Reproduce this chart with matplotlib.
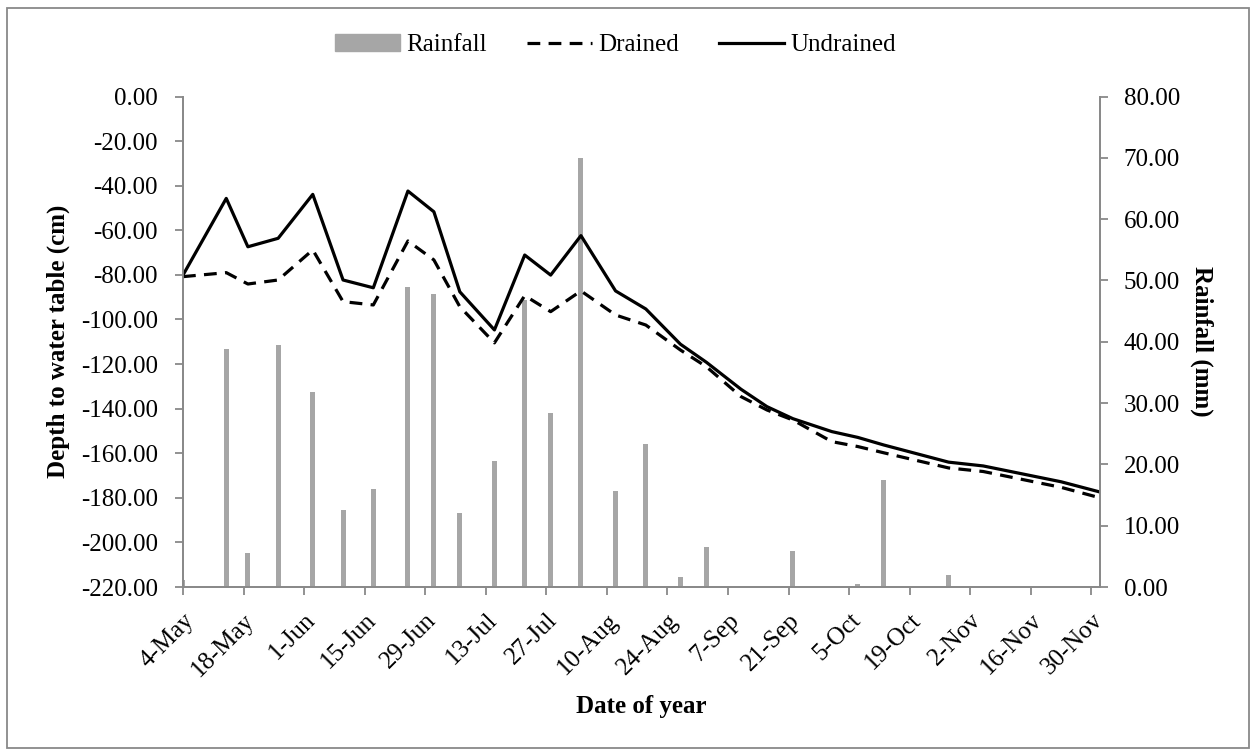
import numpy as np
import pandas as pd

import matplotlib
matplotlib.use("Agg")
import matplotlib.pyplot as plt
from matplotlib.patches import Patch, Rectangle
from matplotlib.lines import Line2D

# -----------------------------
# Data
# -----------------------------
dates = [
    "2013-05-04", "2013-05-14", "2013-05-19", "2013-05-26", "2013-06-03",
    "2013-06-10", "2013-06-17", "2013-06-25", "2013-07-01", "2013-07-07",
    "2013-07-15", "2013-07-22", "2013-07-28", "2013-08-04", "2013-08-12",
    "2013-08-19", "2013-08-27", "2013-09-02", "2013-09-10", "2013-09-16",
    "2013-09-22", "2013-10-01", "2013-10-07", "2013-10-13", "2013-10-28",
    "2013-11-05", "2013-11-23", "2013-12-02",
]
rainfall = [
    1.1, 38.8, 5.5, 39.4, 31.8,
    12.6, 16.0, 48.9, 47.8, 12.0,
    20.6, 46.8, 28.4, 70.0, 15.7,
    23.3, 1.7, 6.6, 0.0, 0.0,
    5.9, 0.0, 0.5, 17.5, 1.9,
    0.0, 0.0, 0.0,
]
drained = [
    -80.8, -79.0, -84.1, -82.3, -68.8,
    -92.0, -93.5, -64.8, -73.3, -94.3,
    -110.5, -89.3, -96.5, -87.2, -98.0,
    -102.5, -113.7, -121.2, -134.6, -140.6,
    -145.1, -154.8, -157.0, -159.8, -166.6,
    -168.2, -175.3, -180.0,
]
undrained = [
    -80.1, -45.7, -67.4, -63.6, -43.9,
    -82.3, -85.8, -42.4, -51.7, -87.6,
    -104.7, -71.1, -80.1, -62.4, -87.2,
    -95.3, -111.1, -119.2, -131.3, -139.1,
    -144.5, -150.3, -152.9, -156.3, -164.0,
    -165.7, -172.8, -177.4,
]
tick_start = "2013-05-04"
tick_end = "2013-11-30"

dates = pd.to_datetime(dates)
tick_dates = pd.date_range(tick_start, tick_end, freq="14D")

# -----------------------------
# Figure
# -----------------------------
plt.rcParams["font.family"] = ["Liberation Serif", "DejaVu Serif"]
FS = 18
GRAY_AX = "#898989"
BAR_COLOR = "#A6A6A6"

fig = plt.figure(figsize=(12.56, 7.56), dpi=100)
ax = fig.add_axes([183 / 1256, 1 - 587 / 756, (1100 - 183) / 1256, (587 - 96.5) / 756])
ax2 = ax.twinx()

# bars on the secondary axis, drawn behind the lines
bar_width = 1.15
ax2.bar(dates, rainfall, width=bar_width, color=BAR_COLOR, zorder=1)
ax.set_zorder(ax2.get_zorder() + 1)
ax.patch.set_visible(False)

ax.plot(dates, drained, color="black", linewidth=2.3, dashes=(4, 2.6))
ax.plot(dates, undrained, color="black", linewidth=2.3)

ax.set_xlim(dates[0], dates[-1])
ax.set_ylim(-220, 0)
ax.set_yticks(np.arange(-220, 1, 20))
ax.yaxis.set_major_formatter(plt.FuncFormatter(lambda v, p: f"{v:.2f}"))
ax2.set_ylim(0, 80)
ax2.set_yticks(np.arange(0, 81, 10))
ax2.yaxis.set_major_formatter(plt.FuncFormatter(lambda v, p: f"{v:.2f}"))

ax.set_xticks(tick_dates)
ax.set_xticklabels([f"{d.day}-{d.strftime('%b')}" for d in tick_dates],
                   rotation=45, ha="right", rotation_mode="anchor", fontsize=FS)

for a in (ax, ax2):
    a.spines["top"].set_visible(False)
    for side in ("left", "right", "bottom"):
        a.spines[side].set_color(GRAY_AX)
        a.spines[side].set_linewidth(1.3)
    a.tick_params(axis="both", colors=GRAY_AX, length=6, width=1.3,
                  labelcolor="black", labelsize=FS, direction="out")
ax.tick_params(axis="x", pad=10)
ax.tick_params(axis="y", pad=12)
ax2.tick_params(axis="y", pad=11)

ax.set_ylabel("Depth to water table (cm)", fontsize=FS, fontweight="bold", labelpad=8)
ax2.set_ylabel("Rainfall (mm)", fontsize=FS, fontweight="bold", rotation=-90, labelpad=24)
ax.set_xlabel("Date of year", fontsize=FS, fontweight="bold", labelpad=10)

handles = [
    Patch(facecolor=BAR_COLOR, edgecolor=BAR_COLOR),
    Line2D([0], [0], color="black", linewidth=2.3, dashes=(4, 2.6)),
    Line2D([0], [0], color="black", linewidth=2.3),
]
fig.legend(handles, ["Rainfall", "Drained", "Undrained"], loc="center",
           bbox_to_anchor=(0.49, 1 - 45 / 756), ncol=3, frameon=False,
           fontsize=FS, handlelength=2.6, handletextpad=0.25, columnspacing=1.6)

# outer chart border
fig.patches.append(Rectangle((7 / 1256, 8 / 756), 1242 / 1256, 740 / 756,
                             transform=fig.transFigure, fill=False,
                             edgecolor=GRAY_AX, linewidth=1.3))

fig.savefig("out.png", dpi=100)
